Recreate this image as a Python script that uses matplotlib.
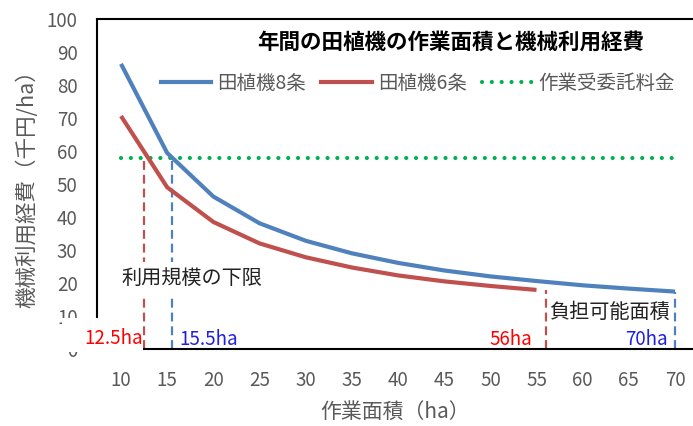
import matplotlib
matplotlib.use("Agg")
import matplotlib.pyplot as plt
from matplotlib.lines import Line2D
from matplotlib.patches import Rectangle

plt.rcParams['font.family'] = ['Noto Sans CJK JP', 'DejaVu Sans']

# 作業面積 (ha)
area_8 = [10, 15, 20, 25, 30, 35, 40, 45, 50, 55, 60, 65, 70]
area_6 = [10, 15, 20, 25, 30, 35, 40, 45, 50, 55]
# 機械利用経費 (千円/ha)
cost_8 = [86.4, 59.4, 46.2, 38.1, 32.8, 29.0, 26.1, 23.8, 22.0, 20.6, 19.3, 18.3, 17.4]
cost_6 = [70.6, 49.0, 38.5, 32.0, 27.8, 24.7, 22.3, 20.5, 19.1, 17.9]
# 作業受委託料金 (千円/ha)
fee_x = [10, 70]
fee = 58
# 利用規模の下限 / 負担可能面積 (ha)
lower_6, lower_8 = 12.5, 15.5
upper_6, upper_8 = 56, 70
xticks = list(range(10, 71, 5))
yticks = list(range(0, 101, 10))

BLUE = '#4F81BD'
RED = '#C0504D'
GREEN = '#00B050'
GREY = '#595959'

fig = plt.figure(figsize=(6.93, 4.26), dpi=100)
ax = fig.add_axes([97 / 693, 77 / 426, 1 - 97 / 693, 330 / 426])

ax.plot(area_8, cost_8, color=BLUE, lw=3, solid_capstyle='butt', zorder=4)
ax.plot(area_6, cost_6, color=RED, lw=3, solid_capstyle='butt', zorder=4)
ax.plot(fee_x, [fee, fee], color=GREEN, lw=3,
        linestyle=(0, (0.01, 2.35)), dash_capstyle='round', zorder=3)

# vertical guide lines
dash = (0, (4, 2.2))
ax.plot([lower_6, lower_6], [0, fee], color=RED, lw=1.6, ls=dash, zorder=2)
ax.plot([lower_8, lower_8], [0, fee], color=BLUE, lw=1.6, ls=dash, zorder=2)
ax.plot([upper_6, upper_6], [0, cost_6[-1]], color=RED, lw=1.6, ls=dash, zorder=2)
ax.plot([upper_8, upper_8], [0, cost_8[-1]], color=BLUE, lw=1.6, ls=dash, zorder=2)

ax.set_xlim(7.4, 71.95)
ax.set_ylim(0, 100)
ax.set_xticks(xticks)
ax.set_yticks(yticks)
ax.tick_params(length=0, labelsize=13.5, labelcolor=GREY)
ax.tick_params(axis='y', pad=14)
ax.tick_params(axis='x', pad=15)
for s in ('top', 'left', 'bottom'):
    ax.spines[s].set_color('black')
    ax.spines[s].set_linewidth(1.5)
ax.spines['right'].set_visible(False)

ax.set_xlabel('作業面積（ha）', fontsize=15, color=GREY, labelpad=7)
ax.set_ylabel('機械利用経費（千円/ha）', fontsize=15.5, color=GREY, labelpad=6)

fig.text(0.651, 0.901, '年間の田植機の作業面積と機械利用経費',
         fontsize=15.5, fontweight='bold', ha='center', va='center')

handles = [
    Line2D([], [], color=BLUE, lw=3),
    Line2D([], [], color=RED, lw=3),
    Line2D([], [], color=GREEN, lw=3, linestyle=(0, (0.01, 2.35)), dash_capstyle='round'),
]
leg = fig.legend(handles, ['田植機8条', '田植機6条', '作業受委託料金'],
                 loc='center left', bbox_to_anchor=(0.232, 0.805), ncol=3,
                 frameon=False, fontsize=14, handlelength=2.6, handletextpad=0.3,
                 columnspacing=0.8, borderpad=0, borderaxespad=0)
for t in leg.get_texts():
    t.set_color(GREY)

ax.text(17.7, 21.5, '利用規模の下限', fontsize=14.5, ha='center', va='center',
        color='#222222', zorder=5,
        bbox=dict(facecolor='white', edgecolor='none', pad=4))
ax.text(62.9, 11.2, '負担可能面積', fontsize=14.5, ha='center', va='center',
        color='#222222', zorder=5)

# white box behind the left label, over the lower part of the y axis
fig.patches.append(Rectangle((62 / 693, 74 / 426), 81 / 693, 34 / 426,
                             transform=fig.transFigure, facecolor='white',
                             edgecolor='none', zorder=10))
fig.text(143 / 693, 87 / 426, f'{lower_6}ha', fontsize=13.5, color='#FF0000',
         ha='right', va='center', zorder=11)
ax.text(16.3, 3.0, f'{lower_8}ha', fontsize=13.5, color='#1F1FE0',
        ha='left', va='center', zorder=5)
ax.text(54.5, 3.0, f'{upper_6}ha', fontsize=13.5, color='#FF0000',
        ha='right', va='center', zorder=5)
ax.text(69.2, 3.0, f'{upper_8}ha', fontsize=13.5, color='#1F1FE0',
        ha='right', va='center', zorder=5)

fig.savefig('out.png', dpi=100)
